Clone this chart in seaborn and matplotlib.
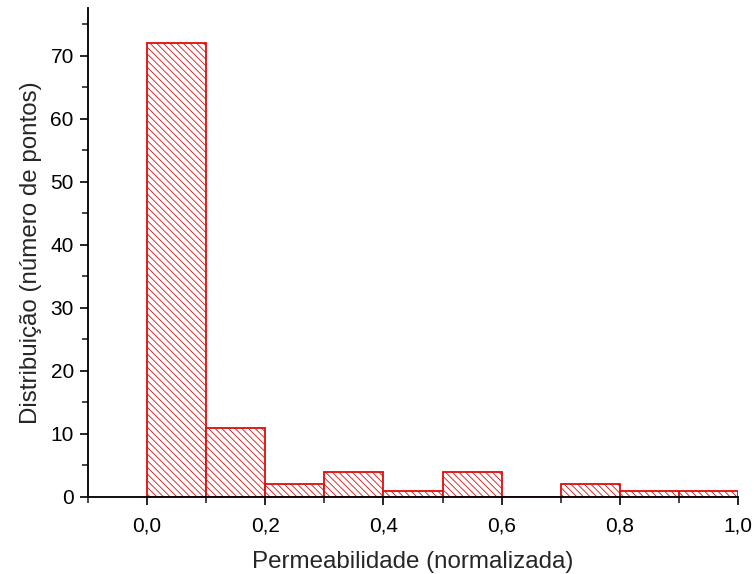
import numpy as np
import pandas as pd
import seaborn as sns
import matplotlib.pyplot as plt
from matplotlib.ticker import MultipleLocator, FuncFormatter

# histogram counts (bins of width 0.1)
bin_edges = [0.0, 0.1, 0.2, 0.3, 0.4, 0.5, 0.6, 0.7, 0.8, 0.9, 1.0]
counts = [72, 11, 2, 4, 1, 4, 0, 2, 1, 1]
x_label = "Permeabilidade (normalizada)"
y_label = "Distribuição (número de pontos)"

centers = [(a + b) / 2 for a, b in zip(bin_edges[:-1], bin_edges[1:])]
df = pd.DataFrame({"perm": centers, "n": counts})

sns.set_style("ticks")
plt.rcParams["font.family"] = ["Liberation Sans", "DejaVu Sans"]
plt.rcParams["hatch.linewidth"] = 0.5
plt.rcParams["hatch.color"] = "#d84848"

dpi = 120
fig = plt.figure(figsize=(754 / dpi, 574 / dpi), dpi=dpi)
ax = fig.add_axes([88 / 754, 1 - 497 / 574, (738 - 88) / 754, (497 - 8) / 574])

sns.histplot(data=df, x="perm", weights="n", bins=bin_edges, ax=ax,
             fill=True, facecolor="white", edgecolor="#e01010",
             linewidth=1.1, hatch="\\\\\\\\\\\\", alpha=1)

ax.set_xlim(-0.1, 1.0)
ax.set_ylim(0, 77.6)
ax.xaxis.set_major_locator(MultipleLocator(0.2))
ax.xaxis.set_minor_locator(MultipleLocator(0.1))
ax.yaxis.set_major_locator(MultipleLocator(10))
ax.yaxis.set_minor_locator(MultipleLocator(5))
ax.xaxis.set_major_formatter(FuncFormatter(lambda v, p: f"{v:.1f}".replace(".", ",").replace("-0,0", "0,0")))

ax.tick_params(which="major", direction="out", length=5, width=1, labelsize=12.5, colors="black")
ax.tick_params(which="minor", direction="out", length=3.5, width=1)
ax.tick_params(axis="x", pad=7)
for s in ["top", "right"]:
    ax.spines[s].set_visible(False)
for s in ["left", "bottom"]:
    ax.spines[s].set_linewidth(1.1)
    ax.spines[s].set_color("black")

ax.set_xlabel(x_label, fontsize=14.5, labelpad=9)
ax.set_ylabel(y_label, fontsize=14.5, labelpad=5)

fig.savefig("out.png", dpi=dpi)
